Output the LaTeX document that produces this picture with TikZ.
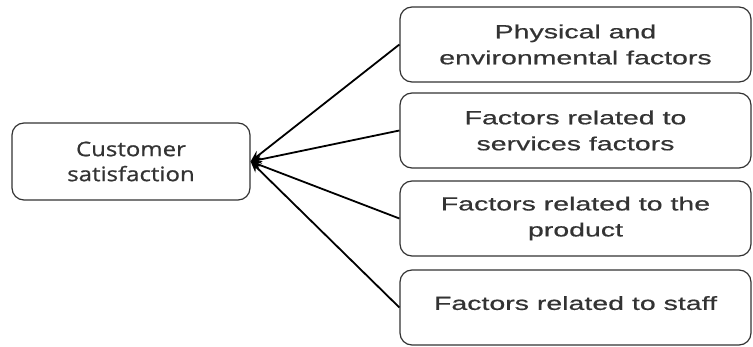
\documentclass[tikz,border=0pt]{standalone}
\usepackage{fontspec}
\setmainfont[FakeStretch=1.5,FakeBold=0.6]{Liberation Sans}
\newfontfamily\custfont[FakeStretch=1.2,FakeBold=0.8]{Open Sans}
\usetikzlibrary{arrows.meta,shapes,positioning}

\begin{document}
\begin{tikzpicture}[x=1pt,y=-1pt,
    factor/.style={rectangle,rounded corners=12pt,draw=black!80,line width=1.2pt,minimum width=351pt,minimum height=75pt,align=center,text=black!80,font=\fontsize{19}{26}\selectfont},
    arrow/.style={->,line width=1.8pt,>={Stealth[length=11pt,width=9pt]}}
]
    \useasboundingbox (0,0) rectangle (753,347);

    % Left: the outcome
    \node[factor,minimum width=238pt,minimum height=77pt,font=\custfont\fontsize{20}{25}\selectfont] (cust) at (131,161.5) {Customer\\satisfaction};

    % Right: the four groups of factors
    \node[factor] (phys) at (575.5,44.5) {Physical and\\environmental factors};
    \node[factor] (serv) at (575.5,130.5) {Factors related to\\services factors};
    \node[factor] (prod) at (575.5,218.5) {Factors related to the\\product};
    \node[factor,text depth=9pt] (staff) at (575.5,307.5) {Factors related to staff};

    % Relationships
    \draw[arrow] (phys.west) -- (cust.east);
    \draw[arrow] (serv.west) -- (cust.east);
    \draw[arrow] (prod.west) -- (cust.east);
    \draw[arrow] (staff.west) -- (cust.east);
\end{tikzpicture}
\end{document}
